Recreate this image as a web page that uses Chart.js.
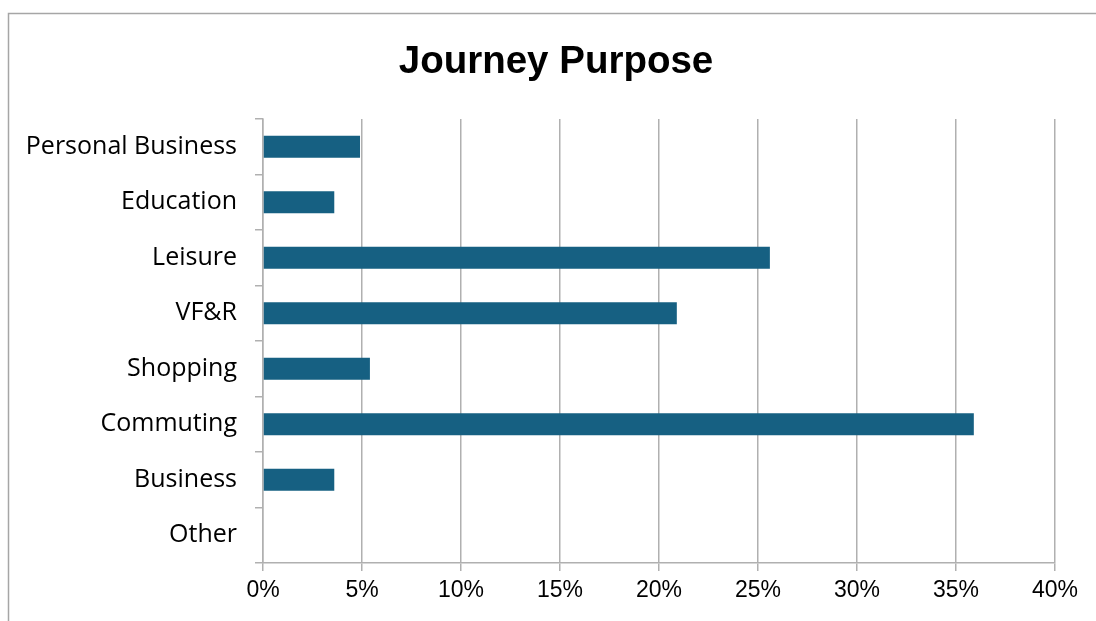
<!DOCTYPE html>
<html>
<head>
<meta charset="utf-8">
<script src="https://cdn.jsdelivr.net/npm/chart.js@4"></script>
<style>
  html, body { margin: 0; padding: 0; background: #fff; }
  #wrap { width: 1096px; height: 621px; }
</style>
</head>
<body>
<div id="wrap"><canvas id="purposeChart"></canvas></div>
<script>
const purposes = ['Personal Business', 'Education', 'Leisure', 'VF&R', 'Shopping', 'Commuting', 'Business', 'Other'];
const shares = [4.9, 3.6, 25.6, 20.9, 5.4, 35.9, 3.6, 0];
const tickValues = [0, 5, 10, 15, 20, 25, 30, 35, 40];
const chartTitle = 'Journey Purpose';

// gray frame around the chart plus the title, centred on the frame
const framePlugin = {
    id: 'frame',
    beforeDraw(chart) {
        const ctx = chart.ctx;
        ctx.save();
        ctx.strokeStyle = '#a6a6a6';
        ctx.lineWidth = 1.5;
        ctx.strokeRect(8.5, 13.5, 1200, 700);
        ctx.fillStyle = '#000';
        ctx.font = 'bold 38.5px "Liberation Sans", Arial, sans-serif';
        ctx.textAlign = 'center';
        ctx.textBaseline = 'alphabetic';
        ctx.fillText(chartTitle, 556, 73);
        ctx.restore();
    }
};

const ctx = document.getElementById('purposeChart').getContext('2d');
new Chart(ctx, {
    type: 'bar',
    data: {
        labels: purposes,
        datasets: [{
            label: chartTitle,
            data: shares,
            backgroundColor: '#166082',
            barPercentage: 0.4,
            categoryPercentage: 1.0
        }]
    },
    options: {
        indexAxis: 'y',
        responsive: true,
        maintainAspectRatio: false,
        animation: false,
        layout: { padding: { left: 0, right: 41, top: 119, bottom: 0 } },
        plugins: {
            legend: { display: false },
            tooltip: { enabled: false }
        },
        scales: {
            x: {
                min: 0,
                max: 40,
                afterBuildTicks(scale) {
                    scale.ticks = tickValues.map(v => ({ value: v }));
                },
                afterFit(scale) { scale.height = 58; },
                ticks: {
                    callback: v => v + '%',
                    color: '#000',
                    font: { family: 'Liberation Sans', size: 23 },
                    padding: 6
                },
                grid: { color: '#b0b0b0', lineWidth: 1.5, tickLength: 8 },
                border: { color: '#b0b0b0', width: 1.5 }
            },
            y: {
                afterFit(scale) { scale.width = 263; },
                ticks: {
                    color: '#000',
                    font: { family: 'Open Sans', size: 25 },
                    padding: 18
                },
                grid: { offset: true, drawOnChartArea: false, color: '#b0b0b0', lineWidth: 1.5, tickLength: 8 },
                border: { color: '#b0b0b0', width: 1.5 }
            }
        }
    },
    plugins: [framePlugin]
});
</script>
</body>
</html>
